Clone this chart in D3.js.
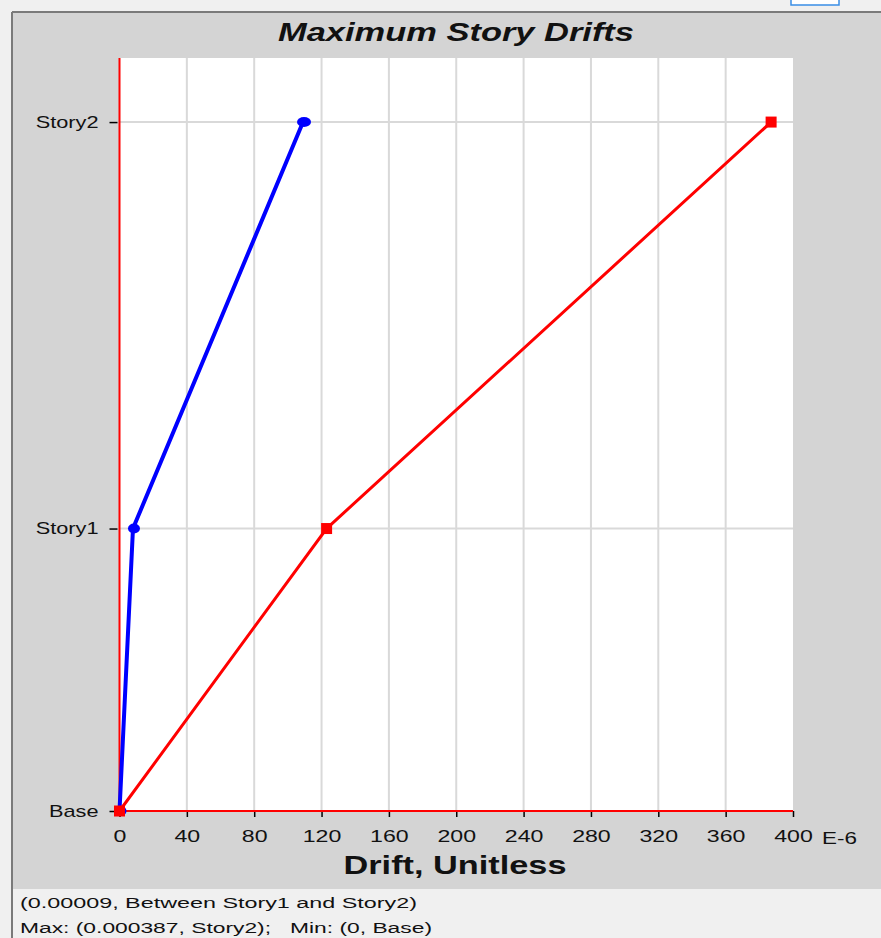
<!DOCTYPE html>
<html><head><meta charset="utf-8">
<script src="https://cdn.jsdelivr.net/npm/d3@7"></script>
<style>
html,body{margin:0;padding:0;background:#f0f0f0;}
svg{display:block;font-family:Arial,"Liberation Sans",sans-serif;}
</style></head>
<body>
<svg id="chart" width="881" height="938"></svg>
<script>
const stories = ["Base", "Story1", "Story2"];
const elevations = [0, 4.1, 10.0];
const blueDrift = [0, 8, 109];
const redDrift = [0, 123, 387];
const xTicks = [0, 40, 80, 120, 160, 200, 240, 280, 320, 360, 400];
const statusLines = ["(0.00009, Between Story1 and Story2)", "Max: (0.000387, Story2);   Min: (0, Base)"];

const SX = 1.36; // horizontal stretch of the reference's text
const svg = d3.select("#chart");
// top blue tab
svg.append("rect").attr("x",791).attr("y",-3).attr("width",48).attr("height",8)
  .attr("fill","#ffffff").attr("stroke","#3a8ee6").attr("stroke-width",1.5);
// grey panel
svg.append("rect").attr("x",12).attr("y",12).attr("width",880).attr("height",877)
  .attr("fill","#d4d4d4");
svg.append("line").attr("x1",12).attr("x2",881).attr("y1",12).attr("y2",12).attr("stroke","#7a7a7a").attr("stroke-width",2);
svg.append("line").attr("x1",12).attr("x2",12).attr("y1",12).attr("y2",938).attr("stroke","#7a7a7a").attr("stroke-width",2);
// status area
svg.append("rect").attr("x",13).attr("y",889).attr("width",868).attr("height",49).attr("fill","#f0f0f0");

const L = 119.5, R = 793, T = 58, B = 811;
const x = d3.scaleLinear().domain([0,400]).range([L,R]);
const y = d3.scaleLinear().domain([0,10.93]).range([B,T]);

svg.append("rect").attr("x",L).attr("y",T).attr("width",R-L).attr("height",B-T).attr("fill","#ffffff");

// gridlines
svg.append("g").selectAll("line").data(xTicks.slice(1,-1)).join("line")
  .attr("x1",d=>x(d)).attr("x2",d=>x(d)).attr("y1",T).attr("y2",B)
  .attr("stroke","#d9d9d9").attr("stroke-width",2);
svg.append("g").selectAll("line").data(elevations.slice(1)).join("line")
  .attr("x1",L).attr("x2",R).attr("y1",d=>y(d)).attr("y2",d=>y(d))
  .attr("stroke","#d9d9d9").attr("stroke-width",2);

// x axis
const xAxis = d3.axisBottom(x).tickValues(xTicks).tickSize(6).tickPadding(13);
const gx = svg.append("g").attr("transform",`translate(0,${B})`).call(xAxis);
gx.select(".domain").remove();
gx.selectAll("line").attr("stroke","#000").attr("stroke-width",1.5);
gx.selectAll("text").attr("font-size",17).attr("fill","#111")
  .attr("transform",`scale(${SX},1)`);
svg.append("text").attr("x",822).attr("y",844).attr("font-size",17).attr("fill","#111")
  .attr("textLength",35).attr("lengthAdjust","spacingAndGlyphs").text("E-6");

// y axis
const yAxis = d3.axisLeft(y).tickValues(elevations).tickFormat((d,i)=>stories[i]).tickSize(8).tickPadding(11);
const gy = svg.append("g").attr("transform",`translate(${L-2},0)`).call(yAxis);
gy.select(".domain").remove();
gy.selectAll("line").attr("stroke","#000").attr("stroke-width",1.5);
gy.selectAll("text").attr("font-size",16).attr("fill","#111")
  .attr("x",-19/SX).attr("transform",`scale(${SX},1)`);

// red axis lines
svg.append("line").attr("x1",L).attr("x2",L).attr("y1",T).attr("y2",B).attr("stroke","#ff0000").attr("stroke-width",2);
svg.append("line").attr("x1",L).attr("x2",R).attr("y1",B).attr("y2",B).attr("stroke","#ff0000").attr("stroke-width",2);

const line = d3.line().x(d=>x(d[0])).y(d=>y(d[1]));
const blueData = blueDrift.map((v,i)=>[v,elevations[i]]);
const redData = redDrift.map((v,i)=>[v,elevations[i]]);

svg.append("path").datum(blueData).attr("d",line).attr("fill","none").attr("stroke","#0000ff").attr("stroke-width",4);
svg.append("path").datum(redData).attr("d",line).attr("fill","none").attr("stroke","#ff0000").attr("stroke-width",3);

svg.append("g").selectAll("ellipse").data(blueData).join("ellipse")
  .attr("cx",d=>x(d[0])+1).attr("cy",d=>y(d[1])).attr("rx",(d,i)=>i===2?7:6).attr("ry",5).attr("fill","#0000ff");
svg.append("g").selectAll("rect").data(redData).join("rect")
  .attr("x",d=>x(d[0])-5.5).attr("y",d=>y(d[1])-5.5).attr("width",11).attr("height",11).attr("fill","#ff0000");

// titles
svg.append("text").attr("x",456).attr("y",41).attr("text-anchor","middle")
  .attr("font-size",25).attr("font-weight","bold").attr("font-style","italic").attr("fill","#111")
  .attr("textLength",356).attr("lengthAdjust","spacingAndGlyphs")
  .text("Maximum Story Drifts");
svg.append("text").attr("x",455).attr("y",874).attr("text-anchor","middle")
  .attr("font-size",26).attr("font-weight","bold").attr("fill","#111")
  .attr("textLength",223).attr("lengthAdjust","spacingAndGlyphs")
  .text("Drift, Unitless");

const statusLens = [397, 412];
svg.append("g").selectAll("text").data(statusLines).join("text")
  .attr("x",20).attr("y",(d,i)=>908+i*25).attr("font-size",15.5).attr("fill","#111")
  .attr("textLength",(d,i)=>statusLens[i]).attr("lengthAdjust","spacingAndGlyphs")
  .attr("xml:space","preserve").style("white-space","pre").text(d=>d);
</script>
</body></html>
